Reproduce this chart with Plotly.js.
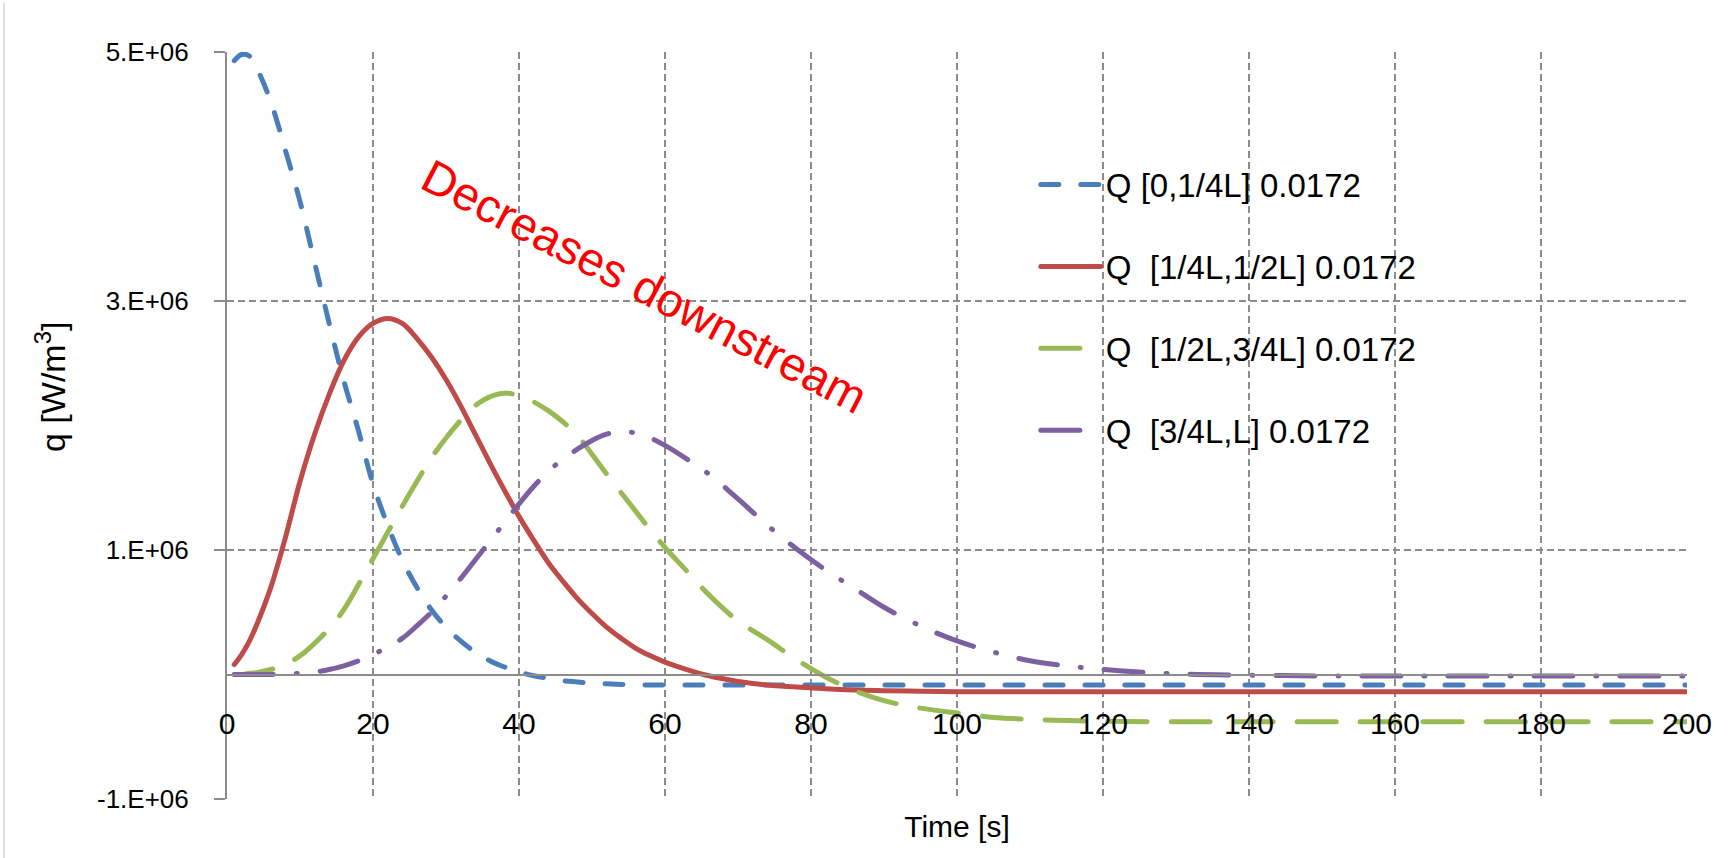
<!DOCTYPE html>
<html>
<head>
<meta charset="utf-8">
<script src="https://cdn.plot.ly/plotly-3.0.1.min.js"></script>
<style>
  html, body { margin: 0; padding: 0; background: #ffffff; }
  #chart { width: 1729px; height: 858px; }
  .scatterlayer path.js-line, .legend path.js-line { stroke-linecap: round; stroke-linejoin: round; }
</style>
</head>
<body>
<div id="chart"></div>
<script>
// ---- data (time in s, heat generation q in W/m^3) ----
const time = [1, 2, 3, 4, 6, 8, 10, 12, 14, 16, 18, 20, 22, 24, 26, 28, 30, 32, 34, 36, 38, 40, 42, 44, 46, 48, 50, 52, 54, 56, 58, 60, 63, 66, 70, 74, 78, 82, 86, 90, 95, 100, 105, 110, 115, 120, 130, 140, 150, 160, 180, 200];

const q1 = [4.93e6, 4.98e6, 4.97e6, 4.88e6, 4.60e6, 4.21e6, 3.80e6, 3.31e6, 2.82e6, 2.36e6, 1.96e6, 1.53e6, 1.20e6, 0.92e6, 0.70e6, 0.52e6, 0.38e6, 0.27e6, 0.18e6, 0.11e6, 0.06e6, 0.02e6, -0.01e6, -0.03e6, -0.05e6, -0.06e6, -0.07e6, -0.075e6, -0.08e6, -0.082e6, -0.084e6, -0.085e6, -0.085e6, -0.085e6, -0.085e6, -0.085e6, -0.085e6, -0.085e6, -0.085e6, -0.085e6, -0.085e6, -0.085e6, -0.085e6, -0.085e6, -0.085e6, -0.085e6, -0.085e6, -0.085e6, -0.085e6, -0.085e6, -0.085e6, -0.085e6];

const q2 = [0.08e6, 0.16e6, 0.26e6, 0.39e6, 0.70e6, 1.10e6, 1.55e6, 1.93e6, 2.25e6, 2.52e6, 2.71e6, 2.82e6, 2.86e6, 2.82e6, 2.70e6, 2.55e6, 2.37e6, 2.16e6, 1.93e6, 1.70e6, 1.48e6, 1.27e6, 1.08e6, 0.90e6, 0.75e6, 0.61e6, 0.49e6, 0.38e6, 0.29e6, 0.21e6, 0.15e6, 0.10e6, 0.04e6, -0.01e6, -0.055e6, -0.085e6, -0.10e6, -0.115e6, -0.125e6, -0.13e6, -0.135e6, -0.138e6, -0.138e6, -0.138e6, -0.138e6, -0.138e6, -0.138e6, -0.138e6, -0.138e6, -0.138e6, -0.138e6, -0.138e6];

const q3 = [0.0, 0.0, 0.01e6, 0.015e6, 0.04e6, 0.08e6, 0.15e6, 0.25e6, 0.37e6, 0.52e6, 0.72e6, 0.93e6, 1.14e6, 1.35e6, 1.55e6, 1.74e6, 1.90e6, 2.04e6, 2.16e6, 2.23e6, 2.26e6, 2.24e6, 2.19e6, 2.12e6, 2.03e6, 1.92e6, 1.77e6, 1.61e6, 1.46e6, 1.31e6, 1.16e6, 1.02e6, 0.83e6, 0.64e6, 0.43e6, 0.28e6, 0.12e6, -0.02e6, -0.13e6, -0.21e6, -0.27e6, -0.31e6, -0.345e6, -0.36e6, -0.37e6, -0.375e6, -0.38e6, -0.38e6, -0.38e6, -0.38e6, -0.38e6, -0.38e6];

const q4 = [0.0, 0.0, 0.0, 0.0, 0.0, 0.005e6, 0.01e6, 0.02e6, 0.04e6, 0.07e6, 0.11e6, 0.16e6, 0.22e6, 0.29e6, 0.39e6, 0.50e6, 0.63e6, 0.77e6, 0.92e6, 1.07e6, 1.22e6, 1.37e6, 1.51e6, 1.63e6, 1.73e6, 1.81e6, 1.88e6, 1.93e6, 1.95e6, 1.94e6, 1.90e6, 1.84e6, 1.73e6, 1.61e6, 1.41e6, 1.20e6, 1.01e6, 0.84e6, 0.69e6, 0.54e6, 0.39e6, 0.27e6, 0.18e6, 0.11e6, 0.07e6, 0.04e6, 0.005e6, -0.005e6, -0.012e6, -0.012e6, -0.012e6, -0.012e6];

const seriesNames = ['Q [0,1/4L] 0.0172', 'Q\u00A0 [1/4L,1/2L] 0.0172', 'Q\u00A0 [1/2L,3/4L] 0.0172', 'Q\u00A0 [3/4L,L] 0.0172'];

const xTickVals = [0, 20, 40, 60, 80, 100, 120, 140, 160, 180, 200];
const yTickVals = [-1e6, 1e6, 3e6, 5e6];
const yTickText = ['-1.E+06', '1.E+06', '3.E+06', '5.E+06'];
const xRange = [0, 200];
const yRange = [-1e6, 5e6];
const xTitle = 'Time [s]';
const yTitle = 'q [W/m<sup>3</sup>]';
const noteText = 'Decreases downstream';

// ---- styling ----
const FONT = 'Liberation Sans, Arial, sans-serif';
const GRID = '#8c8c8c';
const colors = ['#4a7ebb', '#be4b48', '#98b954', '#7d60a0'];
const dashes = ['18px,22px', 'solid', '39px,24px', '39px,23px,1px,23px'];
const seriesData = [q1, q2, q3, q4];

const traces = seriesData.map((q, i) => ({
  type: 'scatter',
  mode: 'lines',
  x: time,
  y: q,
  name: seriesNames[i],
  legendgroup: 'g' + i,
  line: { color: colors[i], width: 5, dash: dashes[i], shape: 'spline', smoothing: 1 },
  hoverinfo: 'x+y+name'
}));

const layout = {
  width: 1729,
  height: 858,
  paper_bgcolor: '#ffffff',
  plot_bgcolor: '#ffffff',
  margin: { l: 227, r: 42, t: 52, b: 59, pad: 0 },
  font: { family: FONT, size: 28, color: '#000000' },
  showlegend: true,
  legend: {
    x: 0.554, y: 0.86, xanchor: 'left', yanchor: 'top',
    bgcolor: 'rgba(0,0,0,0)',
    font: { family: FONT, size: 33, color: '#000000' },
    tracegroupgap: 36,
    traceorder: 'grouped',
    itemwidth: 60
  },
  xaxis: {
    range: xRange,
    tickmode: 'array',
    tickvals: xTickVals,
    anchor: 'free',
    position: (0 - yRange[0]) / (yRange[1] - yRange[0]),
    showline: true, linecolor: GRID, linewidth: 2,
    showgrid: true, gridcolor: GRID, gridwidth: 2, griddash: '7px,4px',
    zeroline: false,
    ticks: '',
    ticklabelstandoff: 22,
    tickfont: { family: FONT, size: 30, color: '#000000' },
    title: { text: xTitle, font: { family: FONT, size: 30, color: '#000000' }, standoff: 76 }
  },
  yaxis: {
    range: yRange,
    tickmode: 'array',
    tickvals: yTickVals,
    ticktext: yTickText,
    showline: true, linecolor: GRID, linewidth: 2,
    showgrid: true, gridcolor: GRID, gridwidth: 2, griddash: '7px,4px',
    zeroline: false,
    ticks: 'outside', ticklen: 11, tickwidth: 2, tickcolor: GRID,
    ticklabelstandoff: 20,
    tickfont: { family: FONT, size: 26, color: '#000000' }
  },
  shapes: [{
    type: 'line', xref: 'paper', yref: 'paper',
    x0: -0.1527, x1: -0.1527, y0: -0.079, y1: 1.066,
    line: { color: '#d4d4d4', width: 1.5 }
  }],
  annotations: [{
    text: yTitle,
    xref: 'paper', yref: 'paper',
    x: -0.121, y: 0.552,
    xanchor: 'center', yanchor: 'middle',
    showarrow: false,
    textangle: -90,
    font: { family: FONT, size: 34, color: '#000000' }
  }, {
    text: noteText,
    xref: 'x', yref: 'y',
    x: 57.3, y: 3.12e6,
    xanchor: 'center', yanchor: 'middle',
    showarrow: false,
    textangle: 27.5,
    font: { family: FONT, size: 47, color: '#ff0000' }
  }]
};

Plotly.newPlot('chart', traces, layout, { displayModeBar: false, staticPlot: true });
</script>
</body>
</html>
